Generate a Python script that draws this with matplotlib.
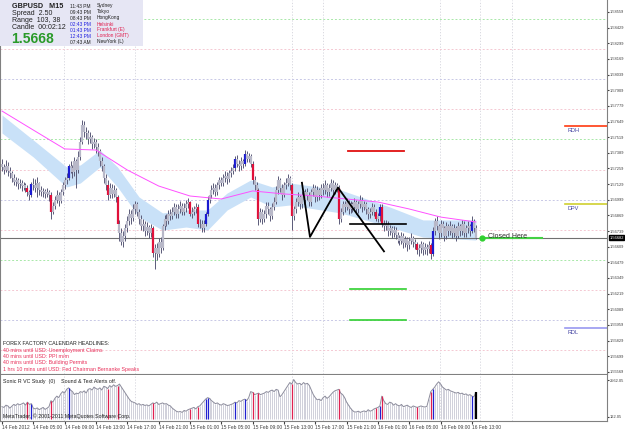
import matplotlib
matplotlib.use("Agg")
import matplotlib.pyplot as plt
import numpy as np

plt.rcParams["font.family"] = ["Liberation Sans", "DejaVu Sans"]

# ---------------- data ----------------
bar_close = [1.5727, 1.5725, 1.5728, 1.5724, 1.5722,
             1.5718, 1.5715, 1.5716, 1.5713, 1.5714, 1.5711, 1.5712, 1.5710,
             1.5706, 1.5704, 1.5713, 1.5712, 1.5710, 1.5714,
             1.5708, 1.5706, 1.5707, 1.5705, 1.5706, 1.5704, 1.5690,
             1.5695, 1.5700, 1.5704, 1.5699,
             1.5706, 1.5712, 1.5716, 1.5718, 1.5728, 1.5726, 1.5723, 1.5732, 1.5725,
             1.5735, 1.5748, 1.5762, 1.5756,
             1.5755, 1.5750, 1.5752, 1.5746, 1.5748, 1.5744,
             1.5740, 1.5732, 1.5728, 1.5718, 1.5712, 1.5704,
             1.5710, 1.5705, 1.5708, 1.5702, 1.5680,
             1.5672, 1.5665, 1.5670, 1.5676,
             1.5682, 1.5688, 1.5685, 1.5692, 1.5696, 1.5690,
             1.5684, 1.5678, 1.5680, 1.5674, 1.5677, 1.5672, 1.5676,
             1.5656, 1.5660, 1.5655, 1.5665, 1.5660,
             1.5678, 1.5684, 1.5682, 1.5688, 1.5686,
             1.5690, 1.5694, 1.5688, 1.5692, 1.5695, 1.5690, 1.5693, 1.5696, 1.5698,
             1.5688, 1.5690, 1.5692, 1.5694, 1.5680,
             1.5680, 1.5676, 1.5680, 1.5688, 1.5700, 1.5704, 1.5708,
             1.5710, 1.5706, 1.5712, 1.5716, 1.5714, 1.5718, 1.5720, 1.5717, 1.5722, 1.5724,
             1.5726, 1.5734, 1.5730, 1.5728, 1.5732, 1.5730, 1.5738, 1.5734, 1.5736, 1.5730,
             1.5716, 1.5712, 1.5708, 1.5684,
             1.5690, 1.5684, 1.5688, 1.5695, 1.5692, 1.5686, 1.5694, 1.5698,
             1.5708, 1.5716, 1.5710, 1.5704, 1.5712, 1.5714, 1.5718, 1.5712,
             1.5686,
             1.5692, 1.5698, 1.5702, 1.5696, 1.5704, 1.5700, 1.5706,
             1.5704, 1.5698, 1.5706, 1.5710, 1.5702, 1.5708,
             1.5704, 1.5710, 1.5708, 1.5712, 1.5706, 1.5710, 1.5714, 1.5708, 1.5712, 1.5710,
             1.5684,
             1.5690, 1.5696, 1.5694, 1.5698, 1.5692, 1.5696,
             1.5694, 1.5698, 1.5692, 1.5696, 1.5700, 1.5694, 1.5696,
             1.5692, 1.5688, 1.5690, 1.5694, 1.5690,
             1.5684, 1.5686, 1.5694, 1.5680,
             1.5678, 1.5680, 1.5674, 1.5676, 1.5672, 1.5675, 1.5671,
             1.5668, 1.5666, 1.5670, 1.5664, 1.5667, 1.5662, 1.5666, 1.5668, 1.5665, 1.5663,
             1.5658, 1.5660, 1.5663, 1.5658, 1.5661, 1.5659, 1.5662,
             1.5655, 1.5674,
             1.5682, 1.5678, 1.5672, 1.5680, 1.5676, 1.5670,
             1.5678, 1.5674, 1.5678, 1.5672, 1.5676, 1.5670, 1.5678, 1.5674, 1.5680, 1.5672, 1.5676, 1.5678, 1.5674,
             1.5682, 1.5676, 1.56682]

bar_high = [1.5734, 1.5730, 1.5733, 1.5731, 1.5727,
            1.5724, 1.5721, 1.5719, 1.5718, 1.5717, 1.5716, 1.5715, 1.5714,
            1.5712, 1.5708, 1.5715, 1.5718, 1.5717, 1.5719,
            1.5715, 1.5711, 1.5710, 1.5709, 1.5710, 1.5708, 1.5706,
            1.5698, 1.5703, 1.5708, 1.5706,
            1.5709, 1.5715, 1.5719, 1.5722, 1.5730, 1.5732, 1.5729, 1.5735, 1.5734,
            1.5740, 1.5752, 1.5766, 1.5765,
            1.5760, 1.5758, 1.5756, 1.5754, 1.5751, 1.5750,
            1.5747, 1.5742, 1.5735, 1.5730, 1.5721, 1.5716,
            1.5714, 1.5713, 1.5712, 1.5710, 1.5704,
            1.5683, 1.5676, 1.5674, 1.5680,
            1.5686, 1.5692, 1.5691, 1.5696, 1.5699, 1.5698,
            1.5692, 1.5687, 1.5684, 1.5682, 1.5681, 1.5679, 1.5680,
            1.5678, 1.5663, 1.5664, 1.5668, 1.5669,
            1.5680, 1.5687, 1.5688, 1.5691, 1.5692,
            1.5694, 1.5697, 1.5696, 1.5696, 1.5699, 1.5697, 1.5697, 1.5700, 1.5701,
            1.5699, 1.5694, 1.5695, 1.5697, 1.5696,
            1.5684, 1.5683, 1.5683, 1.5690, 1.5703, 1.5708, 1.5712,
            1.5714, 1.5713, 1.5715, 1.5719, 1.5719, 1.5721, 1.5724, 1.5723, 1.5725, 1.5727,
            1.5730, 1.5736, 1.5737, 1.5733, 1.5735, 1.5734, 1.5741, 1.5740, 1.5739, 1.5738,
            1.5732, 1.5720, 1.5715, 1.5710,
            1.5693, 1.5692, 1.5691, 1.5698, 1.5698, 1.5694, 1.5697, 1.5702,
            1.5711, 1.5720, 1.5718, 1.5713, 1.5715, 1.5718, 1.5721, 1.5720,
            1.5714,
            1.5695, 1.5701, 1.5706, 1.5704, 1.5707, 1.5707, 1.5709,
            1.5710, 1.5706, 1.5709, 1.5713, 1.5712, 1.5711,
            1.5710, 1.5713, 1.5714, 1.5716, 1.5714, 1.5713, 1.5717, 1.5716, 1.5715, 1.5714,
            1.5712,
            1.5693, 1.5699, 1.5699, 1.5701, 1.5700, 1.5699,
            1.5698, 1.5701, 1.5700, 1.5699, 1.5704, 1.5702, 1.5699,
            1.5698, 1.5694, 1.5693, 1.5697, 1.5696,
            1.5692, 1.5689, 1.5696, 1.5696,
            1.5683, 1.5683, 1.5682, 1.5679, 1.5678, 1.5678, 1.5677,
            1.5673, 1.5671, 1.5673, 1.5672, 1.5670, 1.5669, 1.5669, 1.5672, 1.5670, 1.5667,
            1.5665, 1.5663, 1.5666, 1.5665, 1.5664, 1.5663, 1.5666,
            1.5664, 1.5677,
            1.5685, 1.5686, 1.5680, 1.5683, 1.5682, 1.5678,
            1.5681, 1.5680, 1.5682, 1.5680, 1.5680, 1.5678, 1.5681, 1.5680, 1.5683, 1.5682, 1.5679, 1.5682, 1.5680,
            1.5686, 1.5684, 1.5679]

bar_low = [1.5724, 1.5721, 1.5723, 1.5720, 1.5718,
           1.5715, 1.5712, 1.5711, 1.5709, 1.5710, 1.5707, 1.5708, 1.5706,
           1.5703, 1.5700, 1.5702, 1.5708, 1.5706, 1.5702,
           1.5704, 1.5703, 1.5702, 1.5701, 1.5702, 1.5699, 1.5684,
           1.5688, 1.5692, 1.5697, 1.5695,
           1.5697, 1.5704, 1.5709, 1.5713, 1.5716, 1.5722, 1.5718, 1.5720, 1.5710,
           1.5722, 1.5733, 1.5746, 1.5752,
           1.5750, 1.5746, 1.5747, 1.5742, 1.5743, 1.5739,
           1.5736, 1.5728, 1.5724, 1.5714, 1.5708, 1.5700,
           1.5701, 1.5701, 1.5702, 1.5698, 1.5676,
           1.5666, 1.5662, 1.5661, 1.5666,
           1.5673, 1.5679, 1.5680, 1.5682, 1.5688, 1.5686,
           1.5680, 1.5675, 1.5674, 1.5670, 1.5671, 1.5668, 1.5669,
           1.5652, 1.5642, 1.5650, 1.5652, 1.5656,
           1.5658, 1.5675, 1.5678, 1.5680, 1.5683,
           1.5684, 1.5687, 1.5685, 1.5685, 1.5689, 1.5687, 1.5687, 1.5690, 1.5693,
           1.5686, 1.5685, 1.5687, 1.5689, 1.5677,
           1.5676, 1.5673, 1.5673, 1.5678, 1.5686, 1.5697, 1.5701,
           1.5705, 1.5703, 1.5704, 1.5709, 1.5711, 1.5711, 1.5715, 1.5713, 1.5715, 1.5719,
           1.5721, 1.5724, 1.5727, 1.5724, 1.5725, 1.5726, 1.5728, 1.5731, 1.5731, 1.5727,
           1.5713, 1.5708, 1.5704, 1.5679,
           1.5681, 1.5680, 1.5681, 1.5685, 1.5688, 1.5682, 1.5684, 1.5691,
           1.5696, 1.5705, 1.5706, 1.5700, 1.5702, 1.5709, 1.5711, 1.5708,
           1.5675,
           1.5683, 1.5689, 1.5695, 1.5692, 1.5693, 1.5696, 1.5697,
           1.5700, 1.5695, 1.5695, 1.5703, 1.5698, 1.5699,
           1.5700, 1.5701, 1.5704, 1.5705, 1.5702, 1.5703, 1.5707, 1.5705, 1.5705, 1.5706,
           1.5680,
           1.5681, 1.5687, 1.5690, 1.5691, 1.5688, 1.5689,
           1.5690, 1.5691, 1.5688, 1.5689, 1.5693, 1.5690, 1.5691,
           1.5688, 1.5684, 1.5685, 1.5687, 1.5686,
           1.5682, 1.5681, 1.5682, 1.5677,
           1.5674, 1.5675, 1.5670, 1.5671, 1.5668, 1.5669, 1.5667,
           1.5664, 1.5662, 1.5663, 1.5660, 1.5661, 1.5657, 1.5659, 1.5663, 1.5661, 1.5659,
           1.5655, 1.5653, 1.5656, 1.5654, 1.5655, 1.5654, 1.5656,
           1.5651, 1.5653,
           1.5671, 1.5675, 1.5667, 1.5669, 1.5672, 1.5666,
           1.5667, 1.5670, 1.5671, 1.5668, 1.5669, 1.5666, 1.5668, 1.5670, 1.5671, 1.5669, 1.5669, 1.5672, 1.5670,
           1.5672, 1.5673, 1.5667]

first_open = 1.5730
red_bars = [13, 25, 54, 59, 77, 96, 100, 128, 131, 148, 172, 191, 194, 212, 219]
blue_bars = [15, 34, 104, 105, 119, 124, 193, 220, 240]

volume = [800, 750, 900, 850, 700, 820, 950, 880,
          1000, 920, 980, 1050, 900, 1100, 950, 1000,
          700, 650, 720, 600, 680, 750, 620, 700, 800,
          1200, 1100, 1350, 1500, 1400, 1650, 1800, 1700, 1950,
          2050, 1900, 1800, 1600, 1700, 1650, 1800, 1750,
          1850, 1700, 1950, 2000, 1900, 2100, 2000, 1950,
          2050, 1900, 2150, 2100, 2000, 2200, 2100, 2250, 2150, 2200,
          2300, 2100, 1900, 1700, 1500, 1300, 1150,
          1100, 1050, 950, 1000, 900, 950, 880, 920, 850,
          950, 1050, 1000, 1100, 950, 1000, 1050, 980, 1000,
          900, 850, 700, 600, 500, 450,
          480, 420, 550, 500, 600, 650, 700, 750, 650, 800,
          850, 1000, 1150, 1300, 1400,
          1350, 1200, 1100, 1000, 1050, 950, 900, 1000, 950, 880, 900,
          950, 1000, 1100, 1050, 1200, 1150, 1250, 1300, 1200, 1400,
          1800, 1750, 1600, 1650, 1700,
          1600, 1650, 1700, 1800, 1750, 1850, 1900, 1800, 1950, 1900,
          1450, 1600, 1800, 2000, 2200, 2400, 2300,
          2600, 2400, 2300, 2350, 2250, 2400, 2300, 2350,
          2200, 1900, 1600, 1400, 1250,
          1300, 1200, 1400, 1500, 1350, 1450, 1600, 1750, 1850, 1900, 1950,
          1700, 1600, 1400, 1100, 900, 700, 550, 450,
          450, 500, 420, 480, 520, 450, 600, 500, 550, 650, 700, 750, 850,
          1500,
          1200, 1000, 950, 1100, 1050, 900, 1000,
          900, 850, 950, 800, 850, 900, 800, 750, 850, 800, 750, 800, 850, 800, 780, 820,
          1300, 1800, 1950,
          2100, 2300, 2450, 2300, 2100, 2000,
          1900, 1950, 1850, 1800, 1750, 1700, 1750, 1650, 1700, 1600, 1650, 1550, 1600, 1500, 1450,
          1750]

ma_idx = [0, 16, 32, 48, 64, 80, 96, 112, 128, 144, 160, 176, 192, 208, 224, 242]
ma_val = [1.57736, 1.57578, 1.57421, 1.57412, 1.57246, 1.57113, 1.57030, 1.57005,
          1.57072, 1.57047, 1.57030, 1.57005, 1.56980, 1.56922, 1.56855, 1.56814]

band_idx = [0, 16, 33, 40, 50, 59, 70, 82, 94, 105, 115, 127, 138, 147, 173, 198, 215, 242]
band_up = [1.57703, 1.57495, 1.57271, 1.57288, 1.57412, 1.57271, 1.57022, 1.56889, 1.56914,
           1.56914, 1.57055, 1.57163, 1.57105, 1.57138, 1.57080, 1.56939, 1.56831, 1.56831]
band_lo = [1.57553, 1.57354, 1.57105, 1.57138, 1.57271, 1.57105, 1.56855, 1.56747, 1.56772,
           1.56747, 1.56914, 1.57022, 1.56939, 1.56955, 1.56889, 1.56772, 1.56689, 1.56664]

zigzag_idx = [153.2, 157.3, 171.6, 195.1]
zigzag_val = [1.5714, 1.5669, 1.5710, 1.5657]

last_price = 1.56682
level_black = 1.56797
level_red = 1.57404
levels_green = [1.56257, 1.55999]
rdh, dpv, rdl = 1.57612, 1.56963, 1.55933

quarter_levels = [1.5850, 1.5825, 1.5800, 1.5775, 1.5750, 1.5725, 1.5700,
                  1.5675, 1.5650, 1.5625, 1.5600, 1.5575]
grid_x_idx = [31.7, 67.9, 148.1, 163.9, 223.7, 244.1, 260.5]
price_ticks = [1.58559, 1.58429, 1.58299, 1.58169, 1.58039, 1.57909, 1.57779, 1.57649,
               1.57519, 1.57389, 1.57259, 1.57129, 1.56999, 1.56869, 1.56739, 1.56609,
               1.56479, 1.56349, 1.56219, 1.56089, 1.55959, 1.55829, 1.55699, 1.55569]
time_labels = ["14 Feb 2012", "14 Feb 05:00", "14 Feb 09:00", "14 Feb 13:00", "14 Feb 17:00",
               "14 Feb 21:00", "15 Feb 01:00", "15 Feb 05:00", "15 Feb 09:00", "15 Feb 13:00",
               "15 Feb 17:00", "15 Feb 21:00", "16 Feb 01:00", "16 Feb 05:00", "16 Feb 09:00",
               "16 Feb 13:00"]
time_label_idx = [0, 16, 32, 48, 64, 80, 96, 112, 128, 144, 160, 176, 192, 208, 224, 240]

# ---------------- figure ----------------
W, H = 625, 429
fig = plt.figure(figsize=(W / 100, H / 100), dpi=100)
fig.patch.set_facecolor("white")


def rect(x0, y0, x1, y1):
    return [x0 / W, 1 - y1 / H, (x1 - x0) / W, (y1 - y0) / H]


def ftxt(x, y, s, **kw):
    kw.setdefault("va", "center")
    kw.setdefault("ha", "left")
    fig.text(x / W, 1 - y / H, s, **kw)


XL = (-1.02, 309.0)
ax = fig.add_axes(rect(0, 0, 607, 374))
axv = fig.add_axes(rect(0, 375, 607, 421))
for a in (ax, axv):
    a.set_xlim(*XL)
    a.set_facecolor("white")
    for s in a.spines.values():
        s.set_color("#808080")
        s.set_linewidth(0.8)
    a.spines["top"].set_visible(False)
    for gx in grid_x_idx:
        a.axvline(gx, color="#d4d4dc", lw=0.6, ls=(0, (1.5, 2)), zorder=0)

ax.set_ylim(1.555508, 1.586587)

# quarter levels
qcol = {0: "#c8c8e6", 50: "#a8e8a8", 25: "#f4c8d2", 75: "#f4c8d2"}
for lv in quarter_levels:
    k = int(round(lv * 10000)) % 100
    ax.axhline(lv, color=qcol[k], lw=0.7, ls=(0, (2, 2)), zorder=0)

# band and ma
ax.fill_between(band_idx, band_lo, band_up, color="#c9e1f8", lw=0, zorder=1)
ax.plot(ma_idx, ma_val, color="#ff50ff", lw=0.7, zorder=3)

# bars
n = min(len(bar_close), len(bar_high), len(bar_low))
idx = np.arange(n)
opens = [first_open] + bar_close[:n - 1]
ax.vlines(idx, bar_low[:n], bar_high[:n], color="#5a5a78", lw=0.7, zorder=2)
body_col = []
for i in range(n):
    if i in red_bars:
        body_col.append("#e0103a")
    elif i in blue_bars:
        body_col.append("#1a1ad0")
    else:
        body_col.append("#b8b8c8")
ax.vlines(idx, np.minimum(opens, bar_close[:n]), np.maximum(opens, bar_close[:n]),
          colors=body_col, lw=1.6, zorder=2)

# price line
ax.axhline(last_price, color="#707070", lw=0.8, zorder=1)

# drawn objects
ax.plot(zigzag_idx, zigzag_val, color="black", lw=1.3, zorder=4)
ax.plot([177.7, 206.3], [level_black, level_black], color="black", lw=1.2, zorder=4)
ax.plot([176.7, 205.3], [level_red, level_red], color="#e01010", lw=1.3, zorder=4)
for g in levels_green:
    ax.plot([177.7, 206.3], [g, g], color="#30d030", lw=1.2, zorder=4)
ax.plot([287.5, 309], [rdh, rdh], color="#ff3a10", lw=1.2)
ax.plot([287.5, 309], [dpv, dpv], color="#d0d030", lw=1.2)
ax.plot([287.5, 309], [rdl, rdl], color="#9898f0", lw=1.2)
ax.plot([246.7, 275.8], [last_price, last_price], color="#44d044", lw=1.5)
ax.plot([245.2], [last_price], "o", color="#30d030", ms=3.5)
ftxt(567, 131, "RDH", fontsize=4, color="#4040a0")
ftxt(567, 208, "DPV", fontsize=4, color="#4040a0")
ftxt(567, 332, "RDL", fontsize=4, color="#4040a0")
ftxt(488, 236, "Closed Here", fontsize=5, color="#303030")

# y ticks main
ax.yaxis.tick_right()
ax.set_yticks(price_ticks)
ax.set_yticklabels(["%.5f" % p for p in price_ticks])
ax.tick_params(axis="y", labelsize=2.9, length=1.5, pad=0.8, colors="#404040")
ax.set_xticks([])
ax.text(1.004, last_price, "%.5f" % last_price, transform=ax.get_yaxis_transform(),
        fontsize=2.9, color="white", va="center", ha="left",
        bbox=dict(boxstyle="square,pad=0.12", fc="black", ec="black"))

# indicator panel
vn = min(len(volume), n)
axv.set_ylim(-149, 2901)
axv.vlines(np.arange(vn), 0, volume[:vn], color="#d0d0da", lw=0.7, zorder=1)
axv.plot(np.arange(vn), volume[:vn], color="#8c8c9c", lw=0.7, zorder=2)
for i in red_bars:
    if i < vn:
        axv.vlines(i, 0, volume[i], color="#e02050", lw=0.9, zorder=3)
for i in blue_bars:
    if i < vn:
        axv.vlines(i, 0, volume[i], color="#2020d0", lw=0.9, zorder=3)
axv.vlines(vn - 1, 0, volume[vn - 1], color="black", lw=1.6, zorder=4)
axv.yaxis.tick_right()
axv.set_yticks([2562.05, 122.05])
axv.set_yticklabels(["2562.05", "122.05"])
axv.tick_params(axis="y", labelsize=2.9, length=1.5, pad=0.8, colors="#404040")
axv.set_xticks(time_label_idx)
axv.set_xticklabels(time_labels, ha="left")
axv.tick_params(axis="x", labelsize=3.5, length=2, pad=1, colors="#404040")

# info box
fig.patches.append(plt.Rectangle((0, 1 - 46 / H), 143 / W, 46 / H, transform=fig.transFigure,
                                 fc="#e6e6f4", ec="none", zorder=5))
ftxt(12, 6, "GBPUSD   M15", fontsize=5.2, fontweight="bold", color="#202020", zorder=6)
ftxt(12, 13.5, "Spread  2.50", fontsize=5.0, color="#202020", zorder=6)
ftxt(12, 20.5, "Range  103, 38", fontsize=5.0, color="#202020", zorder=6)
ftxt(12, 27.5, "Candle  00:02:12", fontsize=5.0, color="#202020", zorder=6)
ftxt(11, 39, "1.5668", fontsize=10, fontweight="bold", color="#2a9a2a", zorder=6)
times = ["11:43 PM", "09:43 PM", "08:43 PM", "02:43 PM", "01:43 PM", "12:43 PM", "07:43 AM"]
cities = ["Sydney", "Tokyo", "HongKong", "Helsinki", "Frankfurt (E)", "London (GMT)", "NewYork (L)"]
for k in range(7):
    red = k in (3, 4, 5)
    ftxt(70, 6 + k * 6, times[k], fontsize=3.5, color="#2020e0" if red else "#202020", zorder=6)
    ftxt(97, 6 + k * 6, cities[k], fontsize=3.5, color="#e02050" if red else "#202020", zorder=6)

# calendar headlines
ftxt(3, 343.5, "FOREX FACTORY CALENDAR HEADLINES:", fontsize=3.8, color="#202020")
heads = ["40 mins until USD: Unemployment Claims", "40 mins until USD: PPI m/m",
         "40 mins until USD: Building Permits", "1 hrs 10 mins until USD: Fed Chairman Bernanke Speaks"]
for k, h in enumerate(heads):
    ftxt(3, 350.5 + k * 6.2, h, fontsize=3.8, color="#e8305a")

ftxt(3, 381, "Sonic R VC Study  (0)    Sound & Text Alerts off.", fontsize=3.8, color="#202020")
ftxt(3, 416, "MetaTrader, \u00a9 2001-2011 MetaQuotes Software Corp.", fontsize=3.8, color="#202020")

fig.savefig("out.png", dpi=100)
